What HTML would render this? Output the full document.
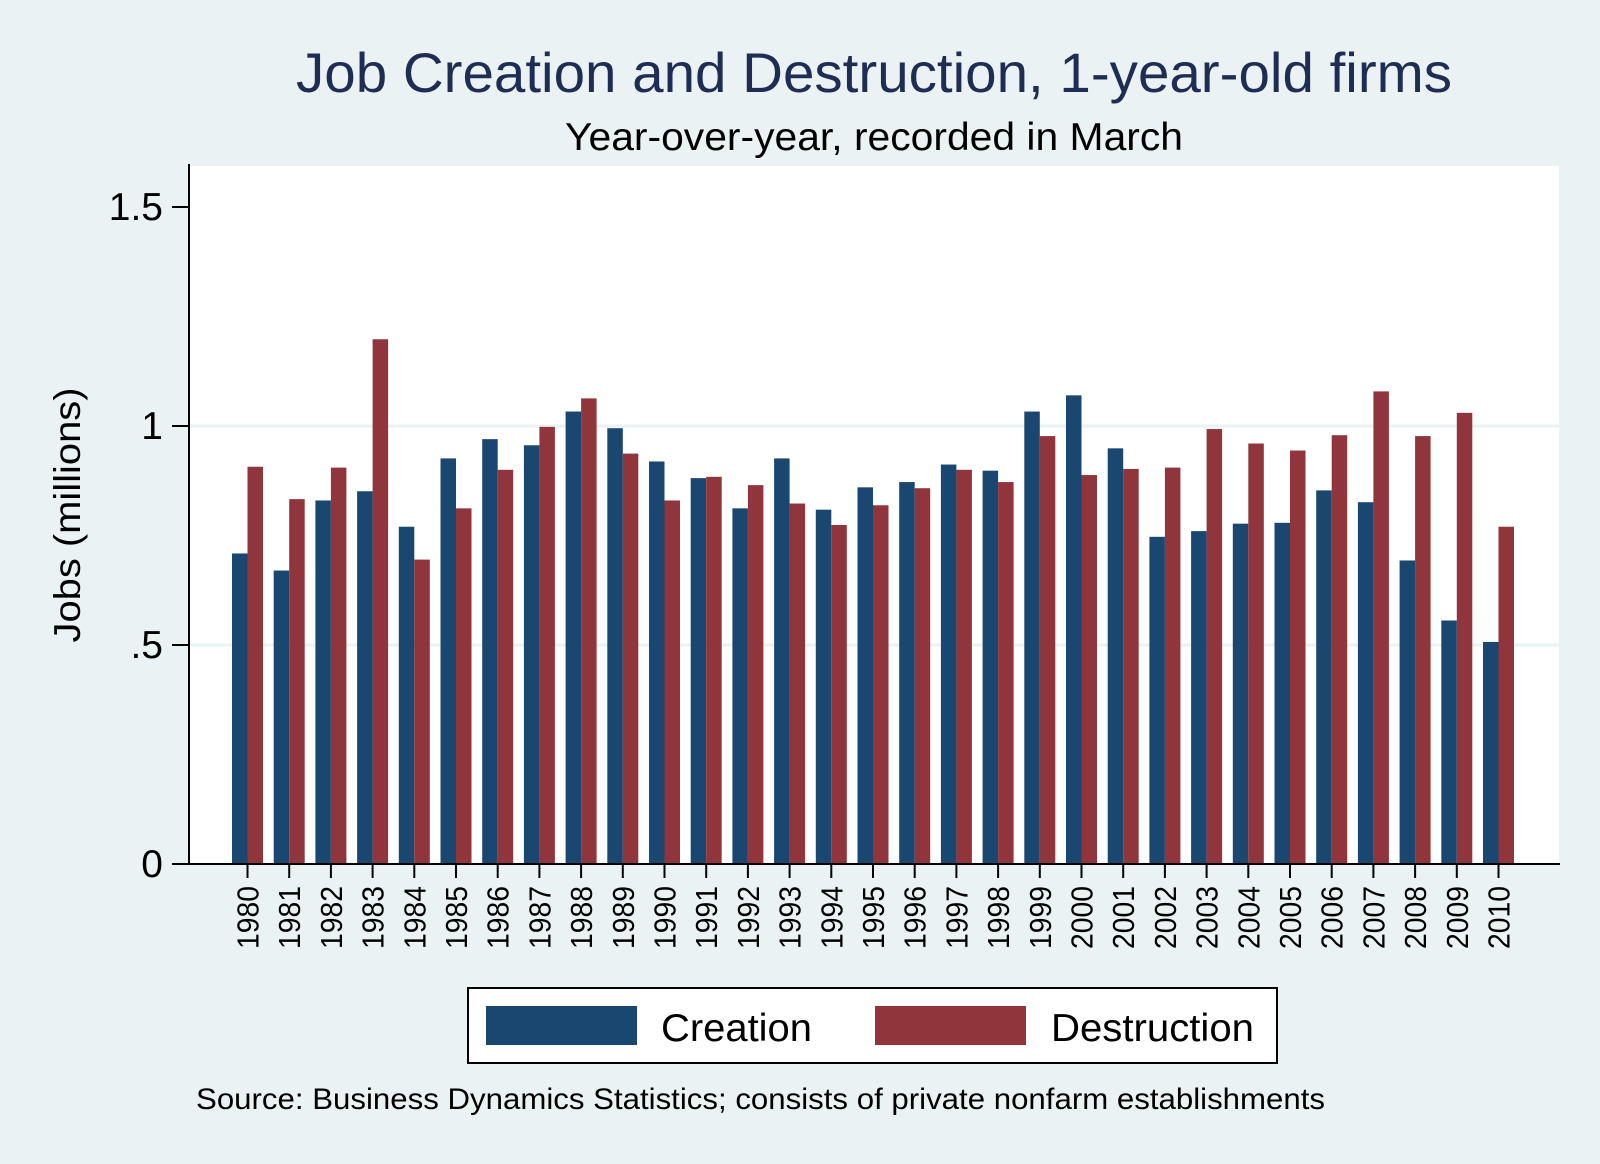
<!DOCTYPE html>
<html><head><meta charset="utf-8"><style>
body{margin:0;background:#eaf2f3;}
svg{display:block;font-family:"Liberation Sans",Arial,sans-serif;}
</style></head><body>
<svg id="chart" width="1600" height="1164" viewBox="0 0 1600 1164">
<rect x="0" y="0" width="1600" height="1164" fill="#eaf2f3"/>
<text x="874" y="92" text-anchor="middle" font-size="56" fill="#1e2d53" textLength="1156" lengthAdjust="spacingAndGlyphs">Job Creation and Destruction, 1-year-old firms</text>
<text x="874" y="150" text-anchor="middle" font-size="39" fill="#000" textLength="618" lengthAdjust="spacingAndGlyphs">Year-over-year, recorded in March</text>
<rect x="189" y="166" width="1370" height="698" fill="#fff"/>
<g id="grid"></g>
<g id="bars"></g>
<line x1="189" y1="164" x2="189" y2="865" stroke="#000" stroke-width="2"/>
<line x1="188" y1="864" x2="1560" y2="864" stroke="#000" stroke-width="2"/>
<g id="yticks"></g>
<g id="xticks"></g>
<text transform="translate(80,515) rotate(-90)" text-anchor="middle" font-size="37" fill="#000" textLength="255" lengthAdjust="spacingAndGlyphs">Jobs (millions)</text>
<g>
<rect x="468" y="988" width="809" height="75" fill="#fff" stroke="#000" stroke-width="2"/>
<rect x="486" y="1006" width="151" height="39" fill="#1a476f"/>
<text x="661" y="1041" font-size="39" fill="#000" textLength="151" lengthAdjust="spacingAndGlyphs">Creation</text>
<rect x="875" y="1006" width="151" height="39" fill="#90353b"/>
<text x="1051" y="1041" font-size="39" fill="#000" textLength="203" lengthAdjust="spacingAndGlyphs">Destruction</text>
</g>
<text x="196" y="1109" font-size="30" fill="#000" textLength="1129" lengthAdjust="spacingAndGlyphs">Source: Business Dynamics Statistics; consists of private nonfarm establishments</text>
</svg>
<script>
const years=[1980,1981,1982,1983,1984,1985,1986,1987,1988,1989,1990,1991,1992,1993,1994,1995,1996,1997,1998,1999,2000,2001,2002,2003,2004,2005,2006,2007,2008,2009,2010];
const creation=[0.709,0.670,0.830,0.851,0.770,0.926,0.970,0.956,1.033,0.995,0.919,0.881,0.812,0.926,0.809,0.860,0.872,0.912,0.898,1.033,1.070,0.949,0.747,0.760,0.777,0.779,0.853,0.826,0.693,0.556,0.507];
const destruction=[0.907,0.833,0.905,1.198,0.695,0.812,0.900,0.998,1.063,0.937,0.830,0.884,0.865,0.823,0.774,0.819,0.858,0.900,0.872,0.977,0.888,0.902,0.905,0.993,0.960,0.944,0.979,1.079,0.977,1.030,0.770];
const yTicks=[0,0.5,1,1.5];
const yTickLabels=["0",".5","1","1.5"];
const NS="http://www.w3.org/2000/svg";
function yScale(v){return 864-v*438;}
function xScale(i){return 232+i*41.7;}
const bw=15.5;
function mk(tag,attrs,parent){const e=document.createElementNS(NS,tag);for(const k in attrs)e.setAttribute(k,attrs[k]);parent.appendChild(e);return e;}
const grid=document.getElementById('grid'),bars=document.getElementById('bars'),yt=document.getElementById('yticks'),xt=document.getElementById('xticks');
yTicks.forEach((v,i)=>{
  const y=yScale(v);
  if(v>0&&v<1.5){const g=mk('line',{x1:190,x2:1559,y1:y,y2:y,stroke:'#eaf2f3','stroke-width':3},grid);
  
  }
  const t=mk('line',{x1:172,x2:189,y1:y,y2:y,stroke:'#000','stroke-width':2},yt);
  
  
  const l=mk('text',{x:163,y:y+13,'text-anchor':'end','font-size':39,fill:'#000'},yt);
  l.textContent=yTickLabels[i];
  
  
});
years.forEach((yr,i)=>{
  const x=xScale(i);
  const c=mk('rect',{x:x,y:yScale(creation[i]),width:bw,height:864-yScale(creation[i]),fill:'#1a476f'},bars);
  
  
  const d=mk('rect',{x:x+bw,y:yScale(destruction[i]),width:bw,height:864-yScale(destruction[i]),fill:'#90353b'},bars);
  
  
  const cx=x+bw;
  const t=mk('line',{x1:cx,x2:cx,y1:864,y2:878,stroke:'#000','stroke-width':2},xt);
  
  
  const l=mk('text',{transform:'translate('+(cx+11)+',886) rotate(-90)','text-anchor':'end','font-size':31,fill:'#000',textLength:63,lengthAdjust:'spacingAndGlyphs'},xt);
  l.textContent=yr;
  
  
});
</script>
</body></html>
